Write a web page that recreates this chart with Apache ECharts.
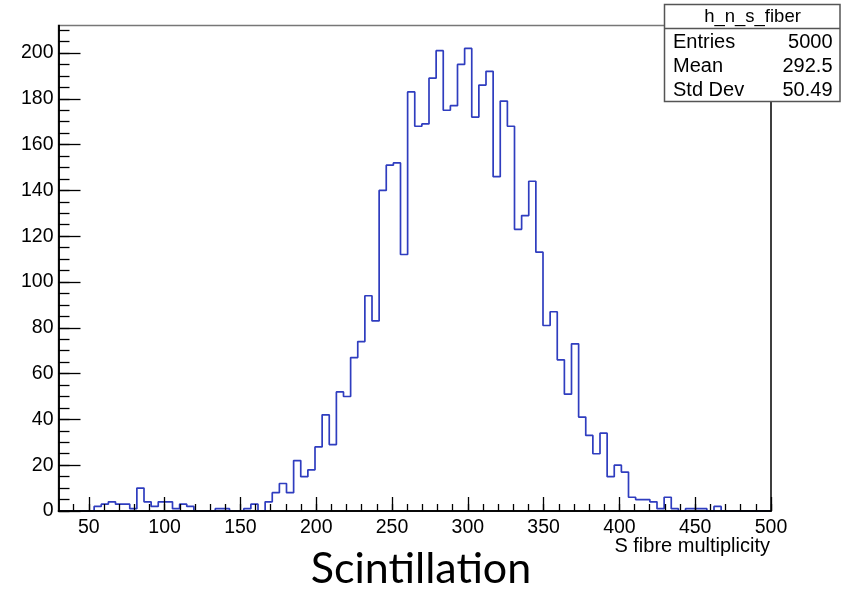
<!DOCTYPE html>
<html>
<head>
<meta charset="utf-8">
<title>h_n_s_fiber</title>
<script src="https://cdn.jsdelivr.net/npm/echarts@6/dist/echarts.min.js"></script>
<style>
  html, body { margin: 0; padding: 0; background: #fff; }
  #chart { width: 841px; height: 590px; }
</style>
</head>
<body>
<div id="chart"></div>
<script>
// h_n_s_fiber : 100 bins between 30 and 500
var binLow = 30
var binHigh = 500
var counts = [
  0, 0, 0, 0, 0, 2, 3, 4, 3, 3,
  1, 10, 4, 2, 4, 4, 1, 3, 2, 0,
  0, 0, 1, 1, 0, 0, 1, 3, 0, 4,
  8, 12, 8, 22, 15, 18, 28, 42, 29, 52,
  50, 67, 74, 94, 83, 140, 151, 152, 112, 183,
  168, 169, 189, 201, 175, 177, 195, 202, 172, 186,
  192, 146, 179, 168, 123, 129, 144, 113, 81, 87,
  66, 51, 73, 41, 33, 25, 34, 15, 20, 17,
  6, 5, 5, 4, 1, 6, 1, 0, 1, 1,
  1, 0, 2, 0, 0, 0, 0, 0, 0, 0
]
var xLabels = [50, 100, 150, 200, 250, 300, 350, 400, 450, 500]
var yLabels = [0, 20, 40, 60, 80, 100, 120, 140, 160, 180, 200]
var statNames = ['Entries', 'Mean', 'Std Dev']
var statValues = ['5000', '292.5', '50.49']

var yMax = 212
var font = '"Liberation Sans", Arial, Helvetica, sans-serif'

// minor ticks every 10 on x, every 5 on y
var xMinor = []
for (var t = 40; t <= binHigh; t += 10) xMinor.push(t)
var yMinor = []
for (var u = 0; u <= 210; u += 5) yMinor.push(u)

// step outline: one point at the low edge of every bin, plus the upper edge
var width = (binHigh - binLow) / counts.length
var steps = counts.map(function (c, i) { return [binLow + i * width, c] })
steps.push([binHigh, counts[counts.length - 1]])

var chart = echarts.init(document.getElementById('chart'))

// stats box in the top right corner
var statGraphics = [
  {
    type: 'rect', z: 100,
    shape: { x: 664.5, y: 4.5, width: 175.5, height: 97 },
    style: { fill: '#fff', stroke: '#555', lineWidth: 1.5 }
  },
  {
    type: 'line', z: 101,
    shape: { x1: 664.5, y1: 28.5, x2: 840, y2: 28.5 },
    style: { stroke: '#555', lineWidth: 1.5 }
  },
  {
    type: 'text', z: 101,
    x: 752.5, y: 17,
    style: { text: 'h_n_s_fiber', font: '18.5px ' + font, fill: '#000', align: 'center', verticalAlign: 'middle' }
  }
]
statNames.forEach(function (name, i) {
  var y = 42.5 + i * 24.2
  statGraphics.push({
    type: 'text', z: 101, x: 673, y: y,
    style: { text: name, font: '20px ' + font, fill: '#000', align: 'left', verticalAlign: 'middle' }
  })
  statGraphics.push({
    type: 'text', z: 101, x: 832.5, y: y,
    style: { text: statValues[i], font: '20px ' + font, fill: '#000', align: 'right', verticalAlign: 'middle' }
  })
})

chart.setOption({
  animation: false,
  backgroundColor: '#fff',
  textStyle: { fontFamily: font },
  grid: {
    left: 58.5,
    right: 70,
    top: 25.5,
    bottom: 79,
    outerBoundsMode: 'none',
    containLabel: false,
    show: true,
    borderColor: '#777',
    borderWidth: 1.5,
    backgroundColor: 'transparent'
  },
  xAxis: [
    {
      type: 'value',
      position: 'bottom',
      min: binLow,
      max: binHigh,
      z: 5,
      splitLine: { show: false },
      axisLine: { onZero: false, lineStyle: { color: '#000', width: 1.5 } },
      axisTick: { inside: true, length: 14, customValues: xLabels, lineStyle: { color: '#000', width: 1.3 } },
      axisLabel: { customValues: xLabels, color: '#000', fontSize: 19.5, margin: 7, fontFamily: font }
    },
    {
      type: 'value',
      position: 'bottom',
      min: binLow,
      max: binHigh,
      z: 5,
      splitLine: { show: false },
      axisLine: { onZero: false, lineStyle: { color: '#000', width: 1.5 } },
      axisTick: { inside: true, length: 7, customValues: xMinor, lineStyle: { color: '#000', width: 1.3 } },
      axisLabel: { show: false }
    }
  ],
  yAxis: [
    {
      type: 'value',
      position: 'left',
      min: 0,
      max: yMax,
      z: 5,
      splitLine: { show: false },
      axisLine: { show: true, onZero: false, lineStyle: { color: '#000', width: 1.5 } },
      axisTick: { show: true, inside: true, length: 22, customValues: yLabels, lineStyle: { color: '#000', width: 1.3 } },
      axisLabel: { customValues: yLabels, color: '#000', fontSize: 19.5, margin: 5, fontFamily: font }
    },
    {
      type: 'value',
      position: 'left',
      min: 0,
      max: yMax,
      z: 5,
      splitLine: { show: false },
      axisLine: { show: true, onZero: false, lineStyle: { color: '#000', width: 1.5 } },
      axisTick: { show: true, inside: true, length: 11, customValues: yMinor, lineStyle: { color: '#000', width: 1.3 } },
      axisLabel: { show: false }
    },
    {
      type: 'value',
      position: 'right',
      min: 0,
      max: yMax,
      z: 5,
      splitLine: { show: false },
      axisLine: { show: true, onZero: false, lineStyle: { color: '#222', width: 1.5 } },
      axisTick: { show: false },
      axisLabel: { show: false }
    }
  ],
  series: [
    {
      name: 'h_n_s_fiber',
      type: 'line',
      step: 'end',
      xAxisIndex: 0,
      yAxisIndex: 0,
      showSymbol: false,
      z: 2,
      lineStyle: { color: '#2f3dbf', width: 1.7 },
      data: steps
    }
  ],
  graphic: statGraphics.concat([
    {
      // x axis title, right aligned under the axis end
      type: 'text', z: 101,
      x: 770, y: 546,
      style: { text: 'S fibre multiplicity', font: '20px ' + font, fill: '#000', align: 'right', verticalAlign: 'middle' }
    },
    {
      type: 'text', z: 101,
      x: 421, y: 569,
      style: { text: 'Scintillation', font: '43px Lato, "Open Sans", sans-serif', fill: '#000', align: 'center', verticalAlign: 'middle' }
    }
  ])
})
</script>
</body>
</html>
